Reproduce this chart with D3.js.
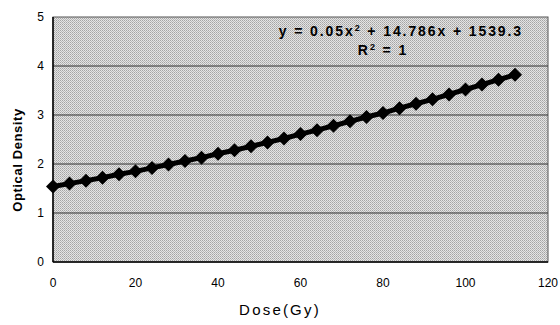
<!DOCTYPE html>
<html>
<head>
<meta charset="utf-8">
<script src="https://cdn.jsdelivr.net/npm/d3@7"></script>
<style>
  body { margin: 0; background: #fff; }
  svg { display: block; }
</style>
</head>
<body>
<div id="chart"></div>
<script>
// dose values (Gy) and optical density
const doses = [0, 4, 8, 12, 16, 20, 24, 28, 32, 36, 40, 44, 48, 52, 56, 60,
  64, 68, 72, 76, 80, 84, 88, 92, 96, 100, 104, 108, 112];
const densities = [1.54, 1.60, 1.66, 1.72, 1.79, 1.85, 1.92, 1.99, 2.06, 2.13,
  2.21, 2.28, 2.36, 2.44, 2.52, 2.61, 2.69, 2.78, 2.87, 2.96, 3.04, 3.14,
  3.23, 3.32, 3.42, 3.52, 3.62, 3.72, 3.82];
const xTicks = [0, 20, 40, 60, 80, 100, 120];
const yTicks = [0, 1, 2, 3, 4, 5];
const eqLine1 = "y = 0.05x";
const eqLine1b = " + 14.786x + 1539.3";
const eqLine2 = "R";

const width = 560, height = 325;
const margin = { top: 17, right: 12, bottom: 63, left: 53 };

const svg = d3.select("#chart").append("svg")
  .attr("width", width)
  .attr("height", height)
  .style("font-family", "Arial, 'Liberation Sans', sans-serif");

const x = d3.scaleLinear().domain([0, 120]).range([margin.left, width - margin.right]);
const y = d3.scaleLinear().domain([0, 5]).range([height - margin.bottom, margin.top]);

// dithered gray background of the plot area
const defs = svg.append("defs");
const pat = defs.append("pattern")
  .attr("id", "dither")
  .attr("width", 2).attr("height", 2)
  .attr("patternUnits", "userSpaceOnUse");
pat.append("rect").attr("width", 2).attr("height", 2).attr("fill", "#e4e4e4");
pat.append("rect").attr("width", 1).attr("height", 1).attr("fill", "#a4a4a4");
pat.append("rect").attr("x", 1).attr("y", 1).attr("width", 1).attr("height", 1).attr("fill", "#b8b8b8");

svg.append("rect")
  .attr("x", x(0)).attr("y", y(5))
  .attr("width", x(120) - x(0)).attr("height", y(0) - y(5))
  .attr("fill", "url(#dither)")
  .attr("stroke", "#555").attr("stroke-width", 1);

// horizontal gridlines
svg.append("g")
  .selectAll("line")
  .data(yTicks.filter(d => d > 0 && d < 5))
  .join("line")
  .attr("x1", x(0)).attr("x2", x(120))
  .attr("y1", d => y(d)).attr("y2", d => y(d))
  .attr("stroke", "#333").attr("stroke-width", 1);

// left and bottom axis lines
svg.append("line")
  .attr("x1", x(0)).attr("x2", x(0)).attr("y1", y(0)).attr("y2", y(5))
  .attr("stroke", "#000").attr("stroke-width", 1.5);
svg.append("line")
  .attr("x1", x(0)).attr("x2", x(120)).attr("y1", y(0)).attr("y2", y(0))
  .attr("stroke", "#000").attr("stroke-width", 1.5);

// tick labels
svg.append("g")
  .selectAll("text")
  .data(xTicks)
  .join("text")
  .attr("x", d => x(d))
  .attr("y", 287)
  .attr("text-anchor", "middle")
  .attr("font-size", 12)
  .text(d => d);

svg.append("g")
  .selectAll("text")
  .data(yTicks)
  .join("text")
  .attr("x", 44)
  .attr("y", d => y(d))
  .attr("dy", "0.35em")
  .attr("text-anchor", "end")
  .attr("font-size", 12)
  .text(d => d);

// axis titles
svg.append("text")
  .attr("x", 280).attr("y", 315)
  .attr("text-anchor", "middle")
  .attr("font-size", 15)
  .attr("letter-spacing", 2.2)
  .text("Dose(Gy)");

svg.append("text")
  .attr("transform", `translate(22,160) rotate(-90)`)
  .attr("text-anchor", "middle")
  .attr("font-size", 13)
  .attr("font-weight", "bold")
  .attr("letter-spacing", 0.6)
  .text("Optical Density");

// data line and diamond markers
const pts = doses.map((d, i) => [d, densities[i]]);
svg.append("path")
  .datum(pts)
  .attr("fill", "none")
  .attr("stroke", "#000")
  .attr("stroke-width", 5)
  .attr("d", d3.line().x(d => x(d[0])).y(d => y(d[1])));

const diamond = d3.symbol().type(d3.symbolDiamond2).size(125);
svg.append("g")
  .selectAll("path")
  .data(pts)
  .join("path")
  .attr("transform", d => `translate(${x(d[0])},${y(d[1])})`)
  .attr("d", diamond)
  .attr("fill", "#000");

// trendline equation
const eq = svg.append("text")
  .attr("x", 523).attr("y", 36)
  .attr("text-anchor", "end")
  .attr("font-size", 14)
  .attr("font-weight", "bold")
  .attr("letter-spacing", 1.9);
eq.append("tspan").text(eqLine1);
eq.append("tspan").attr("dy", -5).attr("font-size", 9).text("2");
eq.append("tspan").attr("dy", 5).text(eqLine1b);

const r2 = svg.append("text")
  .attr("x", 383).attr("y", 55)
  .attr("text-anchor", "middle")
  .attr("font-size", 14)
  .attr("font-weight", "bold")
  .attr("letter-spacing", 1.9);
r2.append("tspan").text(eqLine2);
r2.append("tspan").attr("dy", -5).attr("font-size", 9).text("2");
r2.append("tspan").attr("dy", 5).text(" = 1");
</script>
</body>
</html>
